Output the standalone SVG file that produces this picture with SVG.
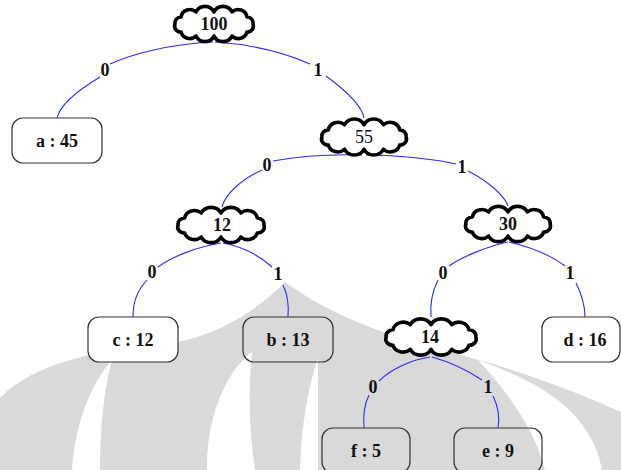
<svg xmlns="http://www.w3.org/2000/svg" xmlns:xlink="http://www.w3.org/1999/xlink" width="621" height="470" viewBox="0 0 621 470">
  <style>
    .wm { fill: #d9d9d9; }
    .wm-cut { fill: #ffffff; }
    .cloud { fill: #ffffff; stroke: #000000; stroke-width: 3.6; stroke-linejoin: round; }
    .leaf { stroke: #333333; stroke-width: 1.2; }
    .leaf.solid { fill: #ffffff; }
    .leaf.clear { fill: none; }
    .edge { fill: none; stroke: #2a2aff; stroke-width: 1.1; }
    text { font-family: "Liberation Serif", "Times New Roman", serif; font-size: 18px; fill: #111111; text-anchor: middle; }
    .b { font-weight: bold; }
  </style>
  <defs>
    <!-- cloud outline centred on the origin -->
    <path id="cloud" vector-effect="non-scaling-stroke"
          d="M -33,-7 A 9,9 0 0 1 -18,-12 A 10,10 0 0 1 0,-12 A 10,10 0 0 1 18,-12 A 9,9 0 0 1 33,-7
             A 6,6 0 0 1 39,0 A 6,6 0 0 1 33,8
             A 9,9 0 0 1 18,12 A 10,10 0 0 1 0,12 A 10,10 0 0 1 -18,12 A 9,9 0 0 1 -33,8
             A 6,6 0 0 1 -39,0 A 6,6 0 0 1 -33,-7 Z"/>
  </defs>

  <rect x="0" y="0" width="621" height="470" fill="#ffffff"/>

  <!-- background crest -->
  <g id="crest">
    <path class="wm" d="M 0,398 C 35,362 100,350 160,345 C 215,338 255,312 285,282 C 325,312 390,338 450,352 C 520,370 580,393 621,412 L 621,470 L 0,470 Z"/>
    <path class="wm-cut" d="M 112,360 C 90,385 75,425 72,470 L 100,470 C 100,425 104,390 112,360 Z"/>
    <path class="wm-cut" d="M 252,352 C 225,372 206,420 207,470 L 255,470 C 249,430 248,392 252,352 Z"/>
    <path class="wm-cut" d="M 318,358 C 307,390 301,430 300,470 L 318,470 C 318,430 318,392 318,358 Z"/>
    <path class="wm-cut" d="M 478,360 C 535,380 592,410 602,470 L 545,470 C 535,430 508,392 478,360 Z"/>
  </g>

  <!-- connectors, split where the bit labels sit -->
  <g id="edges">
    <path class="edge" d="M 213,42 C 170,44 132,54 110,64"/>
    <path class="edge" d="M 100,77 C 75,92 60,105 57,118"/>
    <path class="edge" d="M 215,42 C 260,45 290,55 310,64"/>
    <path class="edge" d="M 326,76 C 345,90 362,105 364,118"/>
    <path class="edge" d="M 362,155 C 330,154 295,157 273,161"/>
    <path class="edge" d="M 262,170 C 240,180 225,195 222,207"/>
    <path class="edge" d="M 366,155 C 400,155 440,160 456,164"/>
    <path class="edge" d="M 468,171 C 490,182 505,197 508,206"/>
    <path class="edge" d="M 221,243 C 195,247 170,258 158,267"/>
    <path class="edge" d="M 147,280 C 138,290 133,300 133,317"/>
    <path class="edge" d="M 223,243 C 245,247 262,258 272,267"/>
    <path class="edge" d="M 283,285 C 288,295 289,305 288,317"/>
    <path class="edge" d="M 508,242 C 485,247 460,258 449,266"/>
    <path class="edge" d="M 438,280 C 432,292 430,305 431,317"/>
    <path class="edge" d="M 509,242 C 530,247 552,256 565,266"/>
    <path class="edge" d="M 576,283 C 582,295 585,305 585,317"/>
    <path class="edge" d="M 430,357 C 410,360 390,370 379,381"/>
    <path class="edge" d="M 369,395 C 364,405 363,415 364,428"/>
    <path class="edge" d="M 432,357 C 450,362 470,372 482,380"/>
    <path class="edge" d="M 493,396 C 498,406 500,416 498,428"/>

    <text class="b" x="105" y="76">0</text>
    <text class="b" x="318" y="76">1</text>
    <text class="b" x="267" y="171">0</text>
    <text class="b" x="462" y="173">1</text>
    <text class="b" x="152" y="278">0</text>
    <text class="b" x="278" y="280">1</text>
    <text class="b" x="443" y="279">0</text>
    <text class="b" x="570" y="279">1</text>
    <text class="b" x="373" y="393">0</text>
    <text class="b" x="488" y="393">1</text>
  </g>

  <!-- internal nodes -->
  <g id="n100">
    <use xlink:href="#cloud" class="cloud" transform="translate(214,24)"/>
    <text class="b" x="214" y="30">100</text>
  </g>
  <g id="n55">
    <use xlink:href="#cloud" class="cloud" transform="translate(364,137) scale(1.08,1.02)"/>
    <text x="364" y="143">55</text>
  </g>
  <g id="n12">
    <use xlink:href="#cloud" class="cloud" transform="translate(221,225) scale(1.1,1)"/>
    <text class="b" x="222" y="231">12</text>
  </g>
  <g id="n30">
    <use xlink:href="#cloud" class="cloud" transform="translate(508,224) scale(1.08,1)"/>
    <text class="b" x="508" y="230">30</text>
  </g>
  <g id="n14">
    <use xlink:href="#cloud" class="cloud" transform="translate(431,337) scale(1.15,1.03)"/>
    <text class="b" x="430" y="343">14</text>
  </g>

  <!-- leaves -->
  <g id="leaf-a">
    <rect class="leaf solid" x="12" y="118" width="90" height="45" rx="11"/>
    <text class="b" x="57" y="147">a : 45</text>
  </g>
  <g id="leaf-c">
    <rect class="leaf solid" x="88" y="317" width="90" height="45" rx="11"/>
    <text class="b" x="133" y="346">c : 12</text>
  </g>
  <g id="leaf-b">
    <rect class="leaf clear" x="243" y="317" width="90" height="45" rx="11"/>
    <text class="b" x="288" y="346">b : 13</text>
  </g>
  <g id="leaf-d">
    <rect class="leaf solid" x="542" y="317" width="78" height="45" rx="11"/>
    <text class="b" x="585" y="346">d : 16</text>
  </g>
  <g id="leaf-f">
    <rect class="leaf clear" x="322" y="428" width="88" height="45" rx="11"/>
    <text class="b" x="366" y="457">f : 5</text>
  </g>
  <g id="leaf-e">
    <rect class="leaf clear" x="454" y="428" width="88" height="45" rx="11"/>
    <text class="b" x="498" y="457">e : 9</text>
  </g>
</svg>
